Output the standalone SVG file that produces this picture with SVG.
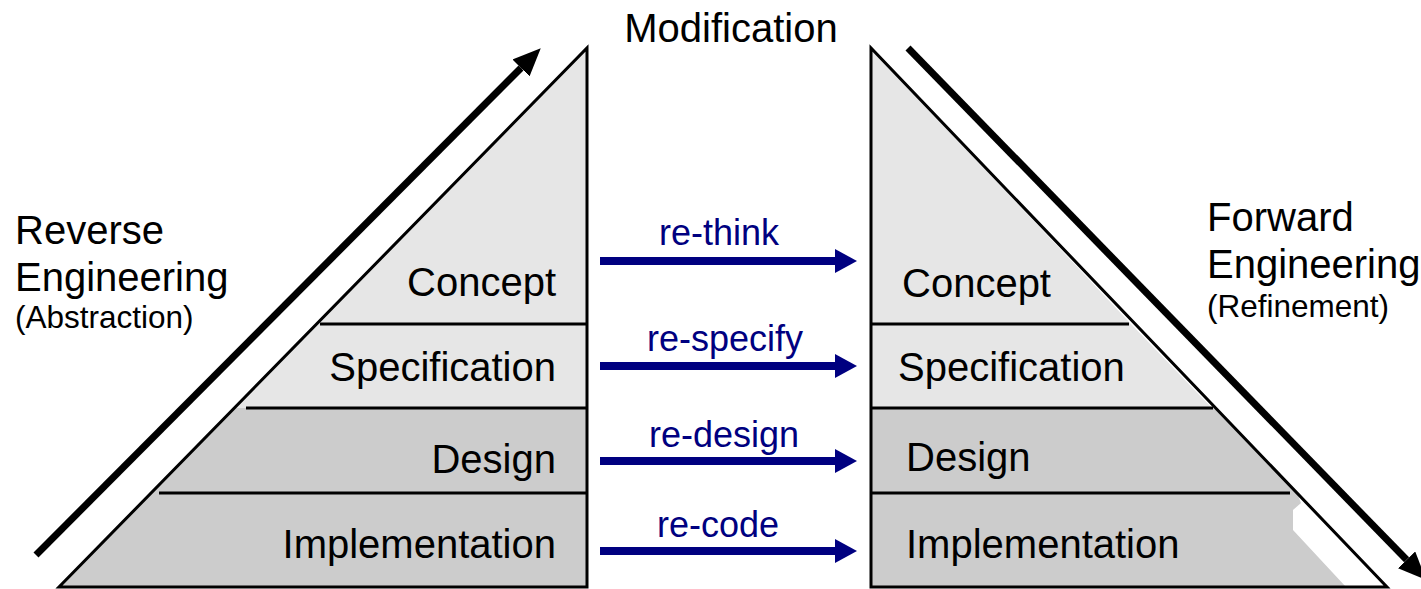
<svg xmlns="http://www.w3.org/2000/svg" width="1421" height="589" viewBox="0 0 1421 589">
  <style>
    text { font-family: "Liberation Sans", Arial, Helvetica, sans-serif; fill: #000; }
    .big { font-size: 40px; }
    .sub { font-size: 31.5px; }
    .lbl { font-size: 36px; fill: #000080; text-anchor: middle; }
    .outline { fill: none; stroke: #000; stroke-width: 3; stroke-linejoin: miter; }
    .div { stroke: #000; stroke-width: 3; }
    .light { fill: #e6e6e6; }
    .dark { fill: #cccccc; }
    .blue { stroke: #000080; stroke-width: 8; fill: none; }
    .thick { stroke: #000; stroke-width: 7; fill: none; }
  </style>
  <defs>
    <marker id="blueHead" markerUnits="userSpaceOnUse" viewBox="0 0 22 24" refX="0" refY="12" markerWidth="22" markerHeight="24" orient="auto">
      <path d="M0,0 L22,12 L0,24 Z" fill="#000080"/>
    </marker>
    <marker id="blackHead" markerUnits="userSpaceOnUse" viewBox="0 -12 28 24" refX="0" refY="0" markerWidth="28" markerHeight="24" orient="auto">
      <path d="M0,-12 L28,0 L0,12 Z" fill="#000"/>
    </marker>
  </defs>

  <rect x="0" y="0" width="1421" height="589" fill="#fff"/>

  <g id="title">
    <text class="big" x="731" y="42" text-anchor="middle">Modification</text>
  </g>

  <g id="reverse-label">
    <text class="big" x="15" y="244">Reverse</text>
    <text class="big" x="15" y="291">Engineering</text>
    <text class="sub" x="15" y="328">(Abstraction)</text>
  </g>

  <g id="forward-label">
    <text class="big" x="1207" y="231">Forward</text>
    <text class="big" x="1207" y="278">Engineering</text>
    <text class="sub" x="1207" y="317">(Refinement)</text>
  </g>

  <g id="left-pyramid">
    <g id="left-concept">
      <polygon class="light" points="587,48 587,324 318,324"/>
      <text class="big" x="556" y="296" text-anchor="end">Concept</text>
    </g>
    <g id="left-specification">
      <polygon class="light" points="318,324 587,324 587,408 234,408"/>
      <text class="big" x="556" y="381" text-anchor="end">Specification</text>
    </g>
    <g id="left-design">
      <polygon class="dark" points="234,408 587,408 587,493 151,493"/>
      <text class="big" x="556" y="473" text-anchor="end">Design</text>
    </g>
    <g id="left-implementation">
      <polygon class="dark" points="151,493 587,493 587,587 59,587"/>
      <text class="big" x="556" y="558" text-anchor="end">Implementation</text>
    </g>
    <polygon class="outline" points="587,48 587,587 59,587"/>
    <line class="div" x1="320" y1="324" x2="587" y2="324"/>
    <line class="div" x1="246" y1="408" x2="587" y2="408"/>
    <line class="div" x1="159" y1="493" x2="587" y2="493"/>
  </g>

  <g id="right-pyramid">
    <g id="right-concept">
      <polygon class="light" points="871,48 871,324 1131,324"/>
      <text class="big" x="902" y="297">Concept</text>
    </g>
    <g id="right-specification">
      <polygon class="light" points="871,324 1131,324 1212,408 871,408"/>
      <text class="big" x="898" y="381">Specification</text>
    </g>
    <g id="right-design">
      <polygon class="dark" points="871,408 1214,408 1297,493 871,493"/>
      <text class="big" x="906" y="471">Design</text>
    </g>
    <g id="right-implementation">
      <polygon class="dark" points="871,493 1297,493 1301,503 1293,510 1293,530 1346,587 871,587"/>
      <text class="big" x="906" y="558">Implementation</text>
    </g>
    <polygon class="outline" points="871,48 871,587 1387,587"/>
    <line class="div" x1="871" y1="324" x2="1129" y2="324"/>
    <line class="div" x1="871" y1="408" x2="1213" y2="408"/>
    <line class="div" x1="871" y1="493" x2="1290" y2="493"/>
  </g>

  <g id="connectors">
    <g id="re-think">
      <line class="blue" x1="600" y1="261" x2="835" y2="261" marker-end="url(#blueHead)"/>
      <text class="lbl" x="719" y="245">re-think</text>
    </g>
    <g id="re-specify">
      <line class="blue" x1="600" y1="366" x2="835" y2="366" marker-end="url(#blueHead)"/>
      <text class="lbl" x="725" y="351">re-specify</text>
    </g>
    <g id="re-design">
      <line class="blue" x1="600" y1="461" x2="835" y2="461" marker-end="url(#blueHead)"/>
      <text class="lbl" x="724" y="447">re-design</text>
    </g>
    <g id="re-code">
      <line class="blue" x1="600" y1="551" x2="835" y2="551" marker-end="url(#blueHead)"/>
      <text class="lbl" x="718" y="537">re-code</text>
    </g>
    <line id="abstraction-arrow" class="thick" x1="36" y1="555" x2="521" y2="68" marker-end="url(#blackHead)"/>
    <line id="refinement-arrow" class="thick" x1="908" y1="48" x2="1406.6" y2="559.8" marker-end="url(#blackHead)"/>
  </g>
</svg>
